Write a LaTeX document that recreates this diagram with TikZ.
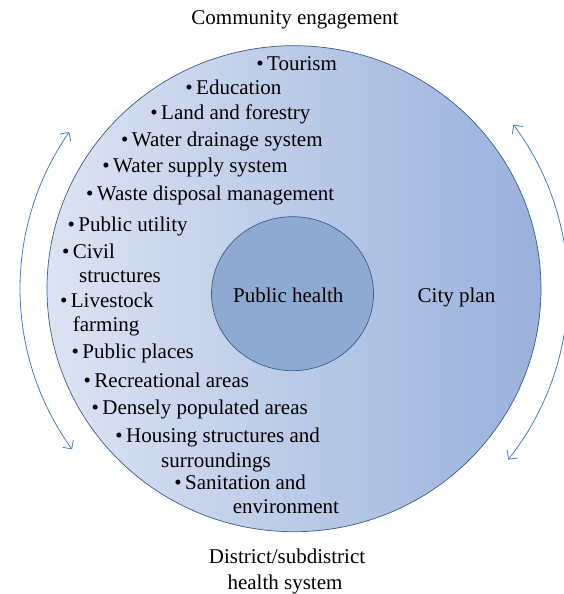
\documentclass[tikz,border=0pt]{standalone}
\usepackage{fontspec}
\setmainfont{Liberation Serif}
\usetikzlibrary{arrows.meta,bending,shapes.geometric}
\definecolor{gradL}{RGB}{220,228,243}
\definecolor{gradR}{RGB}{154,177,220}
\definecolor{innerfill}{RGB}{143,170,208}
\definecolor{rimblue}{RGB}{56,93,138}
\definecolor{arcblue}{RGB}{74,126,187}
\tikzset{
  txt/.style={inner sep=0pt, anchor=base west, font=\fontsize{21}{25}\selectfont},
  ctxt/.style={inner sep=0pt, anchor=base, font=\fontsize{21}{25}\selectfont},
  cyclearc/.style={draw=arcblue, line width=0.8pt, {Straight Barb[length=6.5pt,width=13pt,bend]}-{Straight Barb[length=6.5pt,width=13pt,bend]}}
}
\newcommand{\bul}{\llap{\textbullet\hspace{3.5pt}}}
\begin{document}
\begin{tikzpicture}[x=1pt,y=1pt]
\useasboundingbox (0,0) rectangle (564,594);
\coordinate (c) at (294,305.3);
% big circle with gradient
\shade[left color=gradL, right color=gradR] (c) ellipse [x radius=247, y radius=243];
\draw[rimblue, line width=0.7pt] (c) ellipse [x radius=247, y radius=243];
% inner circle
\node[shape=ellipse, draw=rimblue, line width=0.7pt, fill=innerfill, minimum width=162pt, minimum height=154pt, inner sep=0pt] (ph) at (292.5,300.3) {};
% cycle arcs
\draw[cyclearc] (c) ++(145.1:274) arc[start angle=145.1, end angle=215.9, radius=274];
\draw[cyclearc] (c) ++(36.8:274) arc[start angle=36.8, end angle=-38.6, radius=274];
% texts
\node[ctxt] (phl) at (288.3,291.7) {Public health};
\node[ctxt] (ce) at (295,569) {Community engagement};
\node[ctxt] (ds1) at (287,30.7) {District/subdistrict};
\node[ctxt] (ds2) at (285,4.7) {health system};
\node[ctxt] (cp) at (456.5,291) {City plan};
\node[txt] (t1) at (267,523.3) {\bul Tourism};
\node[txt] (t2) at (196,499) {\bul Education};
\node[txt] (t3) at (161,474) {\bul Land and forestry};
\node[txt] (t4) at (131.7,447.3) {\bul Water drainage system};
\node[txt] (t5) at (113,421.3) {\bul Water supply system};
\node[txt] (t6) at (96.7,393.3) {\bul Waste disposal management};
\node[txt] (t7) at (78.3,362.3) {\bul Public utility};
\node[txt] (t8) at (72.7,335.7) {\bul Civil};
\node[txt] (t8b) at (79,311.7) {structures};
\node[txt] (t9) at (70.7,286.3) {\bul Livestock};
\node[txt] (t9b) at (72.7,262.3) {farming};
\node[txt] (t10) at (82.3,235.7) {\bul Public places};
\node[txt] (t11) at (94.3,206.7) {\bul Recreational areas};
\node[txt] (t12) at (102.3,179) {\bul Densely populated areas};
\node[txt] (t13) at (126,151.3) {\bul Housing structures and};
\node[txt] (t13b) at (161,126.7) {surroundings};
\node[txt] (t14) at (185,104) {\bul Sanitation and};
\node[txt] (t14b) at (232.7,80) {environment};
\end{tikzpicture}
\end{document}
